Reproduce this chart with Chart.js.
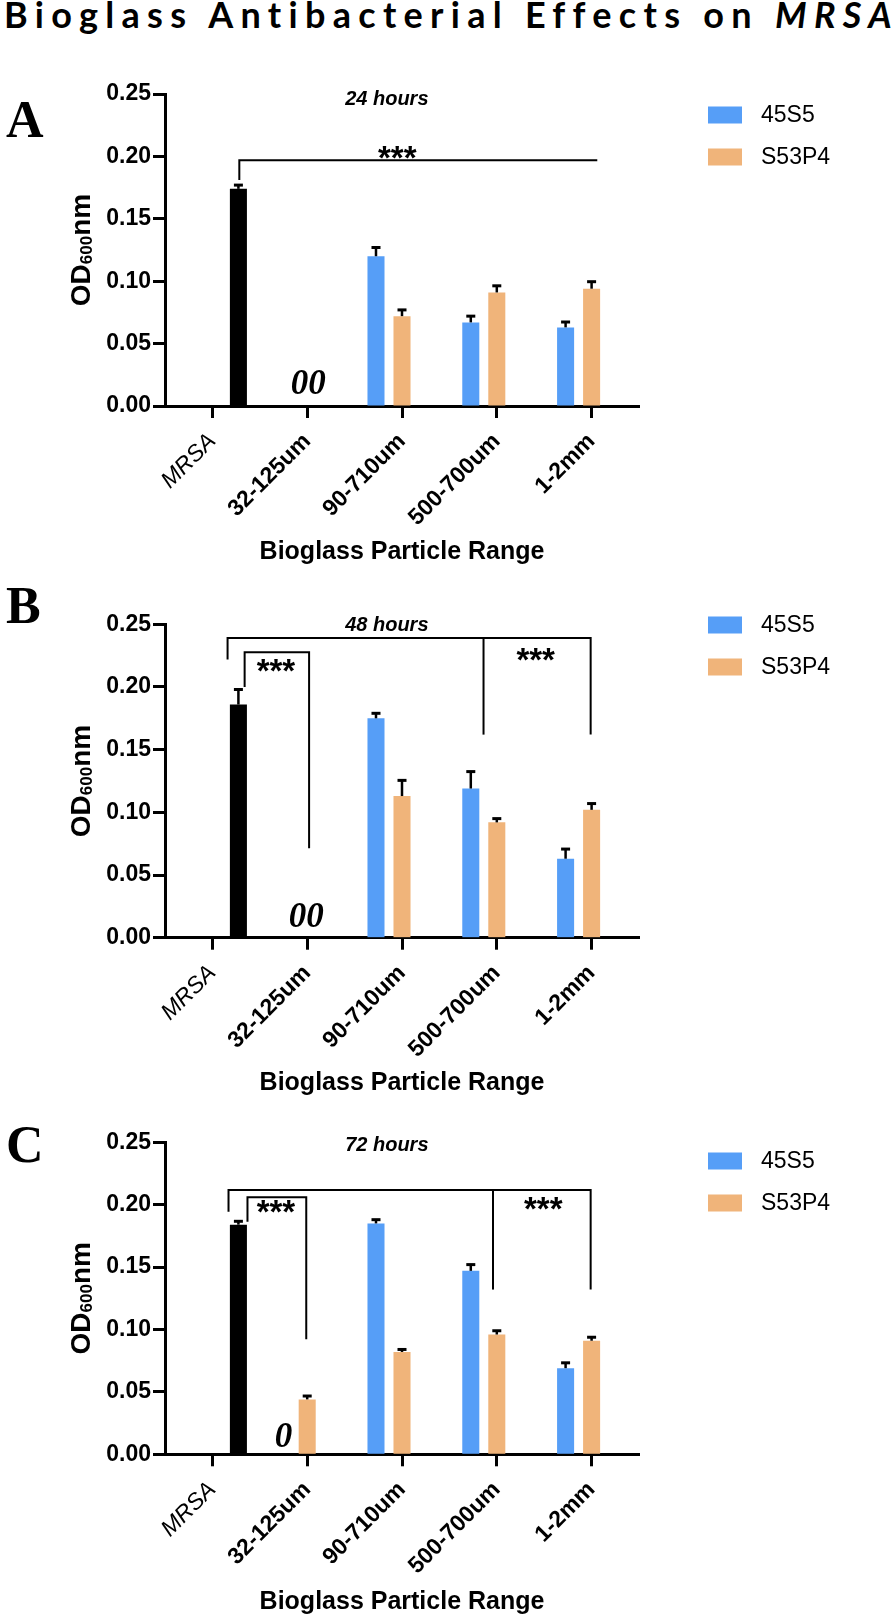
<!DOCTYPE html>
<html><head><meta charset="utf-8">
<script src="https://cdn.jsdelivr.net/npm/chart.js@4.4.1/dist/chart.umd.min.js"></script>
<style>
html,body{margin:0;padding:0;background:#fff;}
body{width:893px;height:1618px;position:relative;overflow:hidden;}
#title{position:absolute;left:4px;top:-4px;font-family:Lato,"Open Sans",sans-serif;font-weight:bold;font-size:36px;line-height:36px;white-space:nowrap;color:#000;}
.panel{position:absolute;left:0;width:893px;}
canvas{display:block;}
</style></head><body>
<div id="title">Bioglass Antibacterial Effects on <i>MRSA</i></div>
<div class="panel" style="top:40px;height:530px"><canvas id="cA" width="893" height="530"></canvas></div>
<div class="panel" style="top:570px;height:528px"><canvas id="cB" width="893" height="528"></canvas></div>
<div class="panel" style="top:1098px;height:520px"><canvas id="cC" width="893" height="520"></canvas></div>
<script>
// ---------- data ----------
const categories = ['MRSA', '32-125um', '90-710um', '500-700um', '1-2mm'];
const seriesNames = ['45S5', 'S53P4', 'MRSA'];
const yTicks = [0, 0.05, 0.10, 0.15, 0.20, 0.25];
const xAxisTitle = 'Bioglass Particle Range';

// 24 hours
const a45S5      = [null, 0, 0.120, 0.067, 0.063];
const a45S5Err   = [0, 0, 0.007, 0.005, 0.0043];
const aS53P4     = [null, 0, 0.072, 0.091, 0.094];
const aS53P4Err  = [0, 0, 0.005, 0.0053, 0.0056];
const aMRSA      = [0.174, null, null, null, null];
const aMRSAErr   = [0.003, 0, 0, 0, 0];
// 48 hours
const b45S5      = [null, 0, 0.175, 0.119, 0.063];
const b45S5Err   = [0, 0, 0.004, 0.0135, 0.0077];
const bS53P4     = [null, 0, 0.113, 0.092, 0.102];
const bS53P4Err  = [0, 0, 0.0125, 0.003, 0.005];
const bMRSA      = [0.186, null, null, null, null];
const bMRSAErr   = [0.012, 0, 0, 0, 0];
// 72 hours
const c45S5      = [null, 0, 0.185, 0.147, 0.069];
const c45S5Err   = [0, 0, 0.003, 0.005, 0.0043];
const cS53P4     = [null, 0.044, 0.082, 0.096, 0.091];
const cS53P4Err  = [0, 0.0027, 0.002, 0.003, 0.0028];
const cMRSA      = [0.184, null, null, null, null];
const cMRSAErr   = [0.0027, 0, 0, 0, 0];

// significance brackets: polylines of [category position, value]
const aBrackets = [[[0.284,0.181],[0.284,0.197],[4.06,0.197]]];
const bBrackets = [
  [[0.16,0.222],[0.16,0.239],[3.99,0.239],[3.99,0.162]],
  [[2.86,0.239],[2.86,0.162]],
  [[0.34,0.200],[0.34,0.2277],[1.02,0.2277],[1.02,0.0713]]
];
const cBrackets = [
  [[0.17,0.1944],[0.17,0.2118],[3.99,0.2118],[3.99,0.132]],
  [[2.96,0.2118],[2.96,0.132]],
  [[0.37,0.1864],[0.37,0.206],[0.99,0.206],[0.99,0.0921]]
];
const aStars = [[1.95,0.2043]];
const bStars = [[0.67,0.2183],[3.41,0.227]];
const cStars = [[0.67,0.1998],[3.49,0.2018]];
const aZeros = [['00',1.01,0.0195]];
const bZeros = [['00',0.99,0.018]];
const cZeros = [['0',0.75,0.0155]];

const BLUE = '#569ef7', ORANGE = '#f0b47a', BLACK = '#000000';
const SANS = '"Liberation Sans", Arial, Helvetica, sans-serif';
const SERIF = '"Liberation Serif", "Times New Roman", serif';
Chart.defaults.font.family = SANS;
Chart.defaults.color = '#000';

const panels = [
  {id:'cA', letter:'A', time:['24 hours',1.84,0.247], blue:a45S5, blueErr:a45S5Err, orange:aS53P4, orangeErr:aS53P4Err, ctrl:aMRSA, ctrlErr:aMRSAErr,
   brackets:aBrackets, stars:aStars, zeros:aZeros, padTop:54, xh:164, titlePad:3.3, letterY:97, legendY:75},
  {id:'cB', letter:'B', time:['48 hours',1.84,0.2502], blue:b45S5, blueErr:b45S5Err, orange:bS53P4, orangeErr:bS53P4Err, ctrl:bMRSA, ctrlErr:bMRSAErr,
   brackets:bBrackets, stars:bStars, zeros:bZeros, padTop:54.3, xh:160.3, titlePad:0, letterY:53, legendY:55},
  {id:'cC', letter:'C', time:['72 hours',1.84,0.2487], blue:c45S5, blueErr:c45S5Err, orange:cS53P4, orangeErr:cS53P4Err, ctrl:cMRSA, ctrlErr:cMRSAErr,
   brackets:cBrackets, stars:cStars, zeros:cZeros, padTop:44.3, xh:163.7, titlePad:1.3, letterY:64, legendY:63}
];

function makeOverlay(p){
  return {
    id:'overlay'+p.id,
    afterDatasetsDraw(chart){
      const ctx = chart.ctx, ys = chart.scales.y;
      chart.data.datasets.forEach((ds,i)=>{
        const meta = chart.getDatasetMeta(i);
        ds.data.forEach((v,j)=>{
          const e = ds.errors[j];
          if (v == null || !e) return;
          const x = meta.data[j].x;
          const y1 = ys.getPixelForValue(v), y2 = ys.getPixelForValue(v+e);
          ctx.save();
          ctx.strokeStyle = '#000'; ctx.lineWidth = 2.5;
          ctx.beginPath(); ctx.moveTo(x,y1); ctx.lineTo(x,y2); ctx.stroke();
          ctx.lineWidth = 3;
          ctx.beginPath(); ctx.moveTo(x-4.5,y2); ctx.lineTo(x+4.5,y2); ctx.stroke();
          ctx.restore();
        });
      });
    },
    afterDraw(chart){
      const ctx = chart.ctx, xs = chart.scales.x, ys = chart.scales.y, area = chart.chartArea;
      const X = c => xs.getPixelForValue(c), Y = v => ys.getPixelForValue(v);
      ctx.save();
      // brackets
      ctx.strokeStyle = '#000'; ctx.lineWidth = 2; ctx.lineJoin = 'miter';
      p.brackets.forEach(line=>{
        ctx.beginPath();
        line.forEach((pt,k)=>{ const px=X(pt[0]), py=Y(pt[1]); k?ctx.lineTo(px,py):ctx.moveTo(px,py); });
        ctx.stroke();
      });
      ctx.fillStyle = '#000';
      // stars
      ctx.font = 'bold 33px ' + SANS; ctx.textAlign = 'center'; ctx.textBaseline = 'alphabetic';
      p.stars.forEach(s=>{ ctx.fillText('***', X(s[0]), Y(s[1]) + 18); });
      // zeros
      ctx.font = 'italic bold 35px ' + SERIF;
      p.zeros.forEach(z=>{ ctx.fillText(z[0], X(z[1]), Y(z[2]) + 12); });
      // time label
      ctx.font = 'italic bold 20px ' + SANS;
      ctx.fillText(p.time[0], X(p.time[1]), Y(p.time[2]) + 7);
      // panel letter
      ctx.textAlign = 'left';
      ctx.font = 'bold 52px ' + SERIF;
      ctx.fillText(p.letter, 6, p.letterY);
      // y axis title OD600nm
      const big = 'bold 28px ' + SANS, small = 'bold 17px ' + SANS;
      ctx.font = big; const w1 = ctx.measureText('OD').width, w3 = ctx.measureText('nm').width;
      ctx.font = small; const w2 = ctx.measureText('600').width;
      const total = w1 + w2 + w3;
      const cy = (area.top + area.bottom)/2;
      ctx.translate(90, cy); ctx.rotate(-Math.PI/2);
      let u = -total/2;
      ctx.font = big; ctx.fillText('OD', u, 0); u += w1;
      ctx.font = small; ctx.fillText('600', u, 2); u += w2;
      ctx.font = big; ctx.fillText('nm', u, 0);
      ctx.setTransform(1,0,0,1,0,0);
      // legend
      ctx.textBaseline = 'middle'; ctx.textAlign = 'left';
      ctx.font = '23px ' + SANS;
      let ly = p.legendY;
      chart.data.datasets.forEach(ds=>{
        if (!ds.showInLegend) return;
        ctx.fillStyle = ds.backgroundColor;
        ctx.fillRect(708, ly-8.5, 34, 17);
        ctx.fillStyle = '#000';
        ctx.fillText(ds.label, 761, ly+1);
        ly += 42;
      });
      ctx.restore();
    }
  };
}

function makeChart(p){
  const el = document.getElementById(p.id);
  return new Chart(el, {
    type:'bar',
    data:{
      labels: categories,
      datasets:[
        {label:seriesNames[0], data:p.blue, errors:p.blueErr, backgroundColor:BLUE, showInLegend:true},
        {label:seriesNames[1], data:p.orange, errors:p.orangeErr, backgroundColor:ORANGE, showInLegend:true},
        {label:seriesNames[2], data:p.ctrl, errors:p.ctrlErr, backgroundColor:BLACK, showInLegend:false}
      ]
    },
    options:{
      responsive:false, animation:false, devicePixelRatio:1,
      categoryPercentage:0.823, barPercentage:0.655,
      layout:{padding:{left:0, right:254, top:p.padTop, bottom:0}},
      plugins:{legend:{display:false}, tooltip:{enabled:false}, title:{display:false}},
      scales:{
        x:{
          offset:true,
          afterFit: s => { s.height = p.xh; },
          grid:{display:true, offset:false, drawOnChartArea:false, drawTicks:true, tickLength:12, tickWidth:3, tickColor:'#000'},
          border:{display:true, width:3, color:'#000'},
          ticks:{
            autoSkip:false, minRotation:45, maxRotation:45, padding:10, color:'#000',
            font: c => (c.index === 0 ? {size:23, style:'italic', weight:'normal', family:SANS} : {size:23, weight:'bold', family:SANS})
          },
          title:{display:true, text:xAxisTitle, color:'#000', font:{size:25, weight:'bold', family:SANS}, padding:{top:0, bottom:p.titlePad}}
        },
        y:{
          min:0, max:0.25,
          afterFit: s => { s.width = 165; },
          afterBuildTicks: s => { s.ticks = yTicks.map(v => ({value:v})); },
          grid:{display:true, drawOnChartArea:false, drawTicks:true, tickLength:12, tickWidth:3, tickColor:'#000'},
          border:{display:true, width:3, color:'#000'},
          ticks:{padding:2, color:'#000', font:{size:23, weight:'bold', family:SANS}, callback: v => Number(v).toFixed(2)}
        }
      }
    },
    plugins:[makeOverlay(p)]
  });
}

// title letter-spacing to span the page width
(function(){
  const t = document.getElementById('title');
  t.style.letterSpacing = '0px';
  const w = t.getBoundingClientRect().width;
  const n = t.textContent.length;
  const ls = (887 - w) / (n - 1);
  t.style.letterSpacing = ls + 'px';
})();

panels.forEach(makeChart);
</script>
</body></html>
